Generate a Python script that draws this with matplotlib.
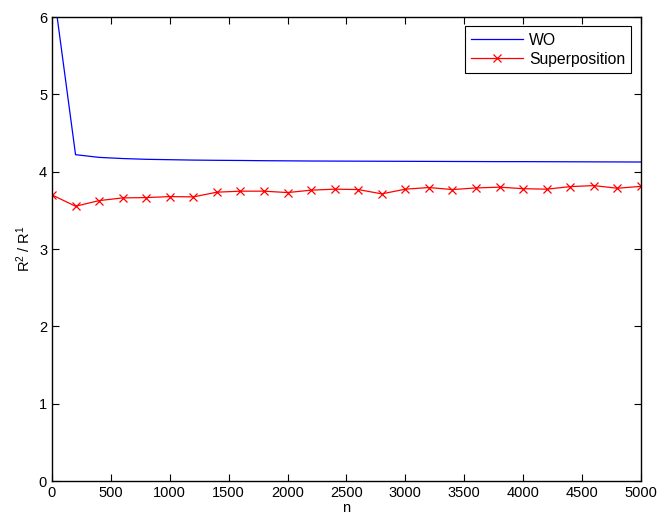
import matplotlib
matplotlib.use("Agg")
import matplotlib.pyplot as plt

plt.rcParams["font.family"] = ["Liberation Sans", "DejaVu Sans"]
plt.rcParams["mathtext.fontset"] = "custom"
plt.rcParams["mathtext.rm"] = "Liberation Sans"
plt.rcParams["mathtext.it"] = "Liberation Sans"

n = [0, 200, 400, 600, 800, 1000, 1200, 1400, 1600, 1800, 2000, 2200, 2400,
     2600, 2800, 3000, 3200, 3400, 3600, 3800, 4000, 4200, 4400, 4600, 4800, 5000]

wo = [6.5, 4.22, 4.185, 4.17, 4.16, 4.155, 4.15, 4.147, 4.145, 4.142, 4.14,
      4.138, 4.137, 4.136, 4.135, 4.134, 4.133, 4.132, 4.131, 4.13, 4.13,
      4.129, 4.128, 4.127, 4.126, 4.125]

superposition = [3.70, 3.553, 3.626, 3.661, 3.665, 3.678, 3.674, 3.735, 3.748,
                 3.748, 3.73, 3.761, 3.774, 3.769, 3.713, 3.774, 3.795, 3.769,
                 3.79, 3.80, 3.78, 3.774, 3.807, 3.82, 3.786, 3.81]

fig = plt.figure(figsize=(6.58, 5.19), dpi=100)
ax = fig.add_axes([0.079, 0.0732, 0.895, 0.894])

ax.plot(n, wo, color="blue", linewidth=0.9, label="WO")
ax.plot(n, superposition, color="red", linewidth=0.9, marker="x",
        markersize=6, markeredgewidth=0.9, label="Superposition")

ax.set_xlim(0, 5000)
ax.set_ylim(0, 6)
ax.set_xticks(range(0, 5001, 500))
ax.set_yticks(range(0, 7))
ax.tick_params(direction="in", top=True, right=True, labelsize=10.5, length=5)
for s in ax.spines.values():
    s.set_linewidth(1.0)

ax.set_xlabel("n", fontsize=10.5, labelpad=1)
ax.set_ylabel("R$^2$ / R$^1$", fontsize=10.5)

leg = ax.legend(loc="upper right", fontsize=11.3, fancybox=False, framealpha=1,
                edgecolor="black", borderaxespad=0.6, handlelength=3.3,
                handletextpad=0.4, labelspacing=0.25, borderpad=0.4)
leg.get_frame().set_linewidth(0.8)

fig.savefig("out.png", dpi=100)
